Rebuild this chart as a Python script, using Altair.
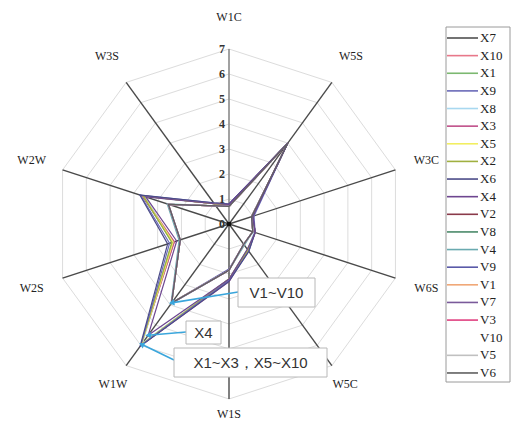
import math
import altair as alt
import pandas as pd

# ---------------- data ----------------
axes_names = ["W1C", "W5S", "W3C", "W6S", "W5C", "W1S", "W1W", "W2S", "W2W", "W3S"]

X7 = [0.78, 4.0, 1.00, 1.10, 1.30, 2.20, 6.00, 2.35, 3.65, 1.00]
X10 = [0.76, 4.0, 1.00, 1.10, 1.30, 2.25, 6.00, 2.30, 3.60, 1.00]
X1 = [0.75, 4.0, 1.00, 1.10, 1.25, 2.20, 5.95, 2.40, 3.60, 1.00]
X9 = [0.80, 4.0, 1.05, 1.10, 1.35, 2.25, 6.00, 2.50, 3.72, 1.05]
X8 = [0.75, 4.0, 1.00, 1.05, 1.30, 2.20, 5.90, 2.35, 3.55, 1.00]
X3 = [0.78, 4.0, 1.00, 1.10, 1.30, 2.30, 6.00, 2.30, 3.65, 1.00]
X5 = [0.75, 4.0, 1.00, 1.10, 1.30, 2.20, 5.95, 2.35, 3.60, 1.00]
X2 = [0.76, 4.0, 1.00, 1.10, 1.30, 2.20, 6.00, 2.40, 3.60, 1.00]
X6 = [0.80, 4.0, 1.00, 1.10, 1.35, 2.30, 6.05, 2.58, 3.75, 1.05]
X4 = [0.78, 4.0, 1.00, 1.10, 1.25, 2.20, 5.50, 2.20, 3.50, 1.00]
V2 = [0.70, 4.0, 0.95, 1.00, 1.00, 1.85, 3.90, 2.05, 2.55, 0.90]
V8 = [0.70, 4.0, 0.95, 1.00, 1.00, 1.85, 3.90, 2.05, 2.55, 0.90]
V4 = [0.72, 4.0, 0.95, 1.00, 1.05, 1.85, 3.95, 2.10, 2.60, 0.90]
V9 = [0.70, 4.0, 0.95, 1.00, 1.00, 1.80, 3.90, 2.05, 2.55, 0.90]
V1 = [0.70, 4.0, 0.95, 1.00, 1.00, 1.85, 3.90, 2.05, 2.55, 0.90]
V7 = [0.72, 4.0, 0.95, 1.00, 1.00, 1.85, 3.92, 2.05, 2.55, 0.90]
V3 = [0.70, 4.0, 0.95, 1.00, 1.00, 1.85, 3.90, 2.05, 2.55, 0.90]
V10 = [0.70, 4.0, 0.95, 1.00, 1.00, 1.85, 3.90, 2.05, 2.55, 0.90]
V5 = [0.70, 4.0, 0.95, 1.00, 1.00, 1.85, 3.90, 2.05, 2.55, 0.90]
V6 = [0.70, 4.0, 0.95, 1.00, 1.00, 1.85, 3.90, 2.05, 2.55, 0.90]

series_names = ["X7", "X10", "X1", "X9", "X8", "X3", "X5", "X2", "X6", "X4",
                "V2", "V8", "V4", "V9", "V1", "V7", "V3", "V10", "V5", "V6"]
series_values = [X7, X10, X1, X9, X8, X3, X5, X2, X6, X4,
                 V2, V8, V4, V9, V1, V7, V3, V10, V5, V6]
series_colors = ["#505050", "#e8788a", "#7cb870", "#6a6ab8", "#a8d8f0", "#c0508a",
                 "#f2ee60", "#a0b040", "#4c4c88", "#6e4690",
                 "#8a3a4a", "#4a8a6a", "#6aaab0", "#5a5aa8", "#f0a878", "#7a5a9a",
                 "#e04080", "#ffffff", "#c0c0c0", "#606060"]
top_series = ["V7", "V6", "X9", "X6", "X4"]   # drawn last (on top)

tick_values = [0, 1, 2, 3, 4, 5, 6, 7]
annot_texts = ["V1~V10", "X4", "X1~X3，X5~X10"]
annot_targets = ["V1", "X4", "X1"]

RMAX = 7
N = len(axes_names)


def pol(r, i):
    a = math.radians(i * 360.0 / N)
    return r * math.sin(a), r * math.cos(a)


def px2u(px, py):
    # helper converting layout pixel positions (page) into plot units
    return (px - 229) / 25.0, (224 - py) / 25.0


# ---------------- frames ----------------
grid_rows = []
for k in range(1, RMAX + 1):
    for j in range(N + 1):
        x, y = pol(k, j % N)
        grid_rows.append({"ring": k, "o": j, "x": x, "y": y})
grid_df = pd.DataFrame(grid_rows)

spoke_rows = []
for i, name in enumerate(axes_names):
    x, y = pol(RMAX, i)
    spoke_rows.append({"axis": name, "x": 0.0, "y": 0.0, "x2": x, "y2": y})
spoke_df = pd.DataFrame(spoke_rows)

line_rows = []
for s_idx, (name, vals) in enumerate(zip(series_names, series_values)):
    for j in range(N + 1):
        x, y = pol(vals[j % N], j % N)
        line_rows.append({"series": name, "o": j, "x": x, "y": y,
                          "top": name in top_series})
line_df = pd.DataFrame(line_rows)

tick_df = pd.DataFrame({"label": [str(t) for t in tick_values],
                        "x": [-0.28] * len(tick_values),
                        "y": [t + 0.0 for t in tick_values]})

lab_rows = []
for i, name in enumerate(axes_names):
    r = {"W5C": 7.9, "W1W": 7.9, "W1S": 7.6}.get(name, 8.3)
    x, y = pol(r, i)
    lab_rows.append({"label": name, "x": x, "y": y})
lab_df = pd.DataFrame(lab_rows)

color_scale = alt.Scale(domain=series_names, range=series_colors)
xs = alt.Scale(domain=[-7, 7], nice=False, zero=False)
ys = alt.Scale(domain=[-7, 7], nice=False, zero=False)
X = lambda f="x": alt.X(f, type="quantitative", scale=xs, axis=None)
Y = lambda f="y": alt.Y(f, type="quantitative", scale=ys, axis=None)

grid = alt.Chart(grid_df).mark_line(stroke="#dcdcdc", strokeWidth=1).encode(
    x=X(), y=Y(), detail="ring:N", order="o:Q")

spokes_main = alt.Chart(spoke_df).transform_filter("datum.axis != 'W1C'").mark_rule(
    strokeWidth=1.4, color="#4a4a4a").encode(x=X(), y=Y(), x2="x2:Q", y2="y2:Q")
spoke_v = alt.Chart(spoke_df).transform_filter("datum.axis == 'W1C'").mark_rule(
    strokeWidth=1.6, color="#8a8a8a").encode(x=X(), y=Y(), x2="x2:Q", y2="y2:Q")

lines_base = alt.Chart(line_df).mark_line(strokeWidth=1.2).encode(
    x=X(), y=Y(), color=alt.Color("series:N", scale=color_scale, legend=None),
    detail="series:N", order="o:Q")
lines_low = lines_base.transform_filter("!datum.top")
lines_top = lines_base.transform_filter("datum.top")

center = alt.Chart(pd.DataFrame({"x": [0.0], "y": [0.0]})).mark_point(
    shape="square", filled=True, color="#111", size=18, opacity=1).encode(x=X(), y=Y())

ticks = alt.Chart(tick_df).mark_text(align="center", baseline="middle", font="Liberation Serif",
                                     fontSize=12, fontWeight="bold", color="#333").encode(
    x=X(), y=Y(), text="label:N")

labels = alt.Chart(lab_df).mark_text(align="center", baseline="middle", font="Liberation Serif",
                                     fontSize=12, color="#222").encode(
    x=X(), y=Y(), text="label:N")

# ---------------- annotations ----------------
box_px = [(238, 278, 315, 307), (186, 321, 221, 344), (174, 348, 327, 377)]
start_px = [(238, 292), (186, 332), (174, 360)]
box_rows, txt_rows, arr_rows, head_rows = [], [], [], []
w1w = axes_names.index("W1W")
for t, tgt, b, st in zip(annot_texts, annot_targets, box_px, start_px):
    x1, y1 = px2u(b[0], b[1])
    x2, y2 = px2u(b[2], b[3])
    box_rows.append({"x": x1, "y": y1, "x2": x2, "y2": y2})
    txt_rows.append({"t": t, "x": (x1 + x2) / 2, "y": (y1 + y2) / 2})
    sx, sy = px2u(*st)
    tv = series_values[series_names.index(tgt)][w1w]
    tx, ty = pol(tv, w1w)
    arr_rows.append({"x": sx, "y": sy, "x2": tx, "y2": ty})
    dx, dy = tx - sx, ty - sy
    ang = math.degrees(math.atan2(dx, dy)) % 360
    head_rows.append({"x": tx, "y": ty, "ang": ang})

boxes = alt.Chart(pd.DataFrame(box_rows)).mark_rect(fill="white", stroke="#b8b8b8", strokeWidth=1).encode(
    x=X(), y=Y(), x2="x2:Q", y2="y2:Q")
btxt = alt.Chart(pd.DataFrame(txt_rows)).mark_text(font="Liberation Sans", fontSize=15, color="#333",
                                                    align="center", baseline="middle").encode(
    x=X(), y=Y(), text="t:N")
arrows = alt.Chart(pd.DataFrame(arr_rows)).mark_rule(color="#3aa6dc", strokeWidth=1.6).encode(
    x=X(), y=Y(), x2="x2:Q", y2="y2:Q")
heads = alt.Chart(pd.DataFrame(head_rows)).mark_point(shape="triangle-up", filled=True, color="#3aa6dc",
                                                      size=40, opacity=1).encode(
    x=X(), y=Y(), angle=alt.Angle("ang:Q", scale=None))

# ---------------- legend (drawn manually) ----------------
lg_x1, lg_y1 = px2u(446, 27)
lg_x2, lg_y2 = px2u(510, 382)
legend_box = alt.Chart(pd.DataFrame({"x": [lg_x1], "y": [lg_y1], "x2": [lg_x2], "y2": [lg_y2]})).mark_rect(
    fill="white", stroke="#9a9a9a", strokeWidth=1).encode(x=X(), y=Y(), x2="x2:Q", y2="y2:Q")
leg_rows = []
for i, name in enumerate(series_names):
    py = 38 + 17.63 * i
    ax, ay = px2u(447, py)
    bx, _ = px2u(478, py)
    tx, _ = px2u(480, py)
    leg_rows.append({"series": name, "x": ax, "x2": bx, "y": ay, "tx": tx})
leg_df = pd.DataFrame(leg_rows)
leg_lines = alt.Chart(leg_df).mark_rule(strokeWidth=1.6).encode(
    x=X(), x2="x2:Q", y=Y(), color=alt.Color("series:N", scale=color_scale, legend=None))
leg_text = alt.Chart(leg_df).mark_text(align="left", baseline="middle", font="Liberation Serif",
                                       fontSize=13, color="#222").encode(
    x=X("tx"), y=Y(), text="series:N")

chart = alt.layer(grid, spokes_main, spoke_v, lines_low, lines_top, center, ticks, labels,
                  arrows, heads, boxes, btxt, legend_box, leg_lines, leg_text).properties(
    width=350, height=350, autosize="none",
    padding={"left": 46, "top": 41, "right": 107, "bottom": 21}
).configure_view(stroke=None)

chart.save("out.html", embed_options={"renderer": "svg", "actions": False})
